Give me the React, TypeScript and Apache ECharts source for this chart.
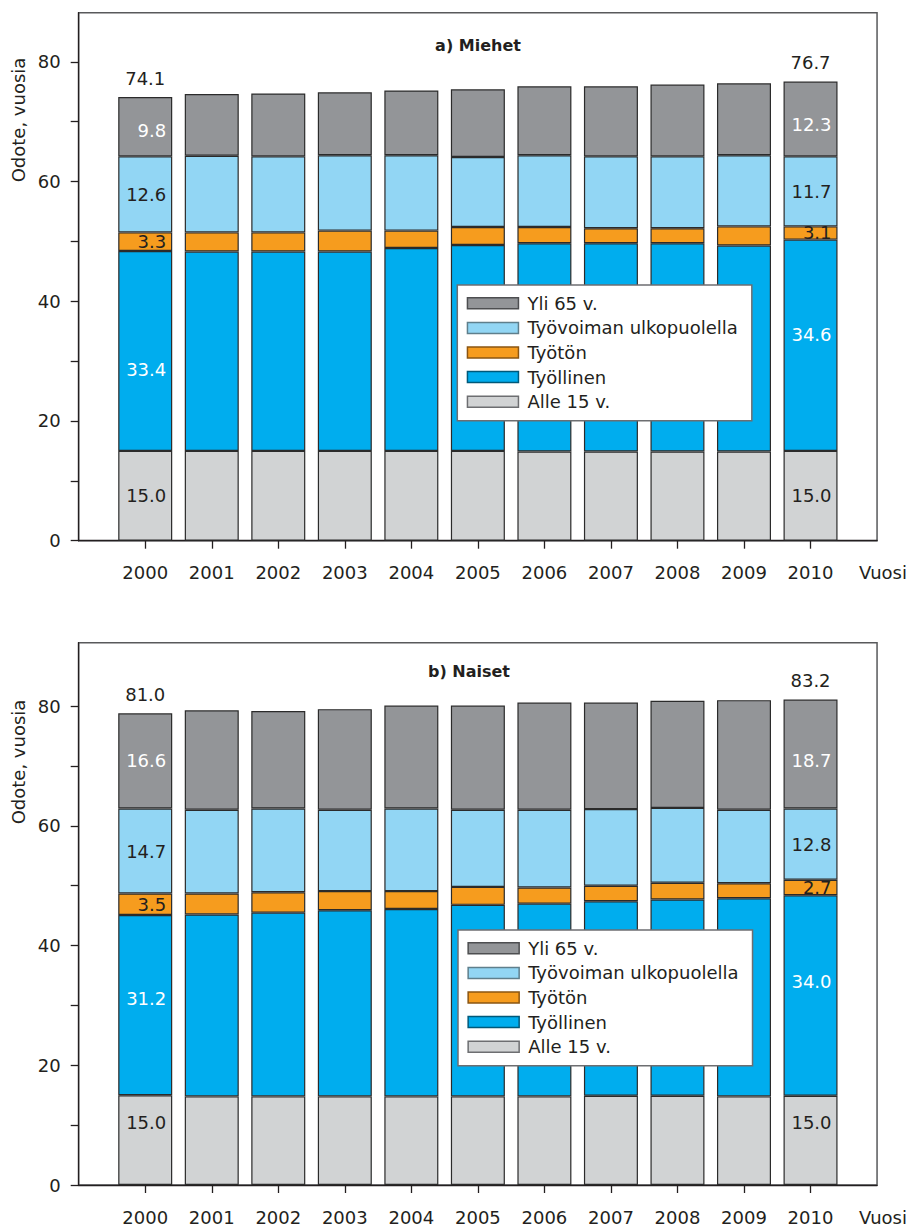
import React, { useEffect, useRef } from "react";
import * as echarts from "echarts";

const years = [2000, 2001, 2002, 2003, 2004, 2005, 2006, 2007, 2008, 2009, 2010];
const xCategories = ["", ...years.map(String), "Vuosi"];
const yTicks = [0, 10, 20, 30, 40, 50, 60, 70, 80];
const yLabels = [0, 20, 40, 60, 80];
const seriesNames = ["Alle 15 v.", "Työllinen", "Työtön", "Työvoiman ulkopuolella", "Yli 65 v."];
const legendOrder = ["Yli 65 v.", "Työvoiman ulkopuolella", "Työtön", "Työllinen", "Alle 15 v."];

// a) Miehet
const menAlle = [15.0, 15.0, 15.0, 15.0, 15.0, 15.0, 14.9, 14.9, 14.9, 14.9, 15.0];
const menTyollinen = [33.4, 33.3, 33.3, 33.3, 33.9, 34.4, 34.8, 34.8, 34.8, 34.4, 35.3];
const menTyoton = [3.1, 3.2, 3.2, 3.5, 2.9, 3.0, 2.7, 2.5, 2.5, 3.2, 2.2];
const menUlkop = [12.7, 12.8, 12.7, 12.6, 12.6, 11.7, 12.0, 12.0, 12.0, 11.9, 11.7];
const menYli = [9.9, 10.3, 10.5, 10.5, 10.8, 11.3, 11.5, 11.7, 12.0, 12.0, 12.5];
// printed labels (2000, 2010)
const menAlleLabels = ["15.0", "15.0"];
const menTyollinenLabels = ["33.4", "34.6"];
const menTyotonLabels = ["3.3", "3.1"];
const menUlkopLabels = ["12.6", "11.7"];
const menYliLabels = ["9.8", "12.3"];
const menTotalLabels = ["74.1", "76.7"];

// b) Naiset
const womenAlle = [15.0, 14.8, 14.8, 14.8, 14.8, 14.8, 14.8, 14.9, 14.9, 14.8, 14.9];
const womenTyollinen = [30.1, 30.4, 30.7, 31.1, 31.3, 32.0, 32.2, 32.5, 32.8, 33.1, 33.5];
const womenTyoton = [3.6, 3.5, 3.4, 3.2, 3.0, 3.0, 2.7, 2.6, 2.8, 2.5, 2.6];
const womenUlkop = [14.2, 14.0, 14.0, 13.6, 13.8, 12.9, 13.0, 12.8, 12.5, 12.3, 11.9];
const womenYli = [15.9, 16.6, 16.3, 16.8, 17.2, 17.4, 17.9, 17.8, 17.9, 18.3, 18.2];
const womenAlleLabels = ["15.0", "15.0"];
const womenTyollinenLabels = ["31.2", "34.0"];
const womenTyotonLabels = ["3.5", "2.7"];
const womenUlkopLabels = ["14.7", "12.8"];
const womenYliLabels = ["16.6", "18.7"];
const womenTotalLabels = ["81.0", "83.2"];

const FONT = "DejaVu Sans";
const INK = "#231f20";
const fills = ["#d1d3d4", "#00adee", "#f69c1e", "#92d6f4", "#939598"];
const swatchBorders = ["#6d6e71", "#00597a", "#8a5512", "#5f7f8c", "#4d4e50"];
const labelColors = [INK, "#ffffff", INK, INK, "#ffffff"];

// label nudges (style only): [series index] -> [offset 2000, offset 2010]
const menLabelOffsets: Record<number, number[][]> = {
  1: [[0, 19], [0, -11]],
  4: [[0, 4], [0, 6]],
};
const womenLabelOffsets: Record<number, number[][]> = {
  0: [[0, -18], [0, -18]],
  1: [[0, -7], [0, -14]],
  4: [[0, 0], [0, 6]],
};

function buildSeries(
  stack: string,
  gridIdx: number,
  values: number[][],
  labels: string[][],
  totals: string[],
  offsets: Record<number, number[][]>
) {
  const last = years.length - 1;
  const out: any[] = values.map((vals, s) => ({
    name: seriesNames[s],
    type: "bar",
    stack,
    xAxisIndex: gridIdx,
    yAxisIndex: gridIdx,
    barWidth: 54,
    itemStyle: { color: fills[s], borderColor: "#2b2b2b", borderWidth: 1.2 },
    data: vals.map((v, i) => {
      const item: any = { value: [String(years[i]), v] };
      const off = offsets[s];
      if (off && (i === 0 || i === last)) {
        item.label = { offset: off[i === 0 ? 0 : 1] };
      }
      return item;
    }),
    label: {
      show: true,
      position: "insideRight",
      distance: 6,
      color: labelColors[s],
      fontFamily: FONT,
      fontSize: 18,
      formatter: (p: any) => (p.dataIndex === 0 ? labels[s][0] : p.dataIndex === last ? labels[s][1] : ""),
    },
  }));
  out.push({
    name: "total",
    type: "bar",
    stack,
    xAxisIndex: gridIdx,
    yAxisIndex: gridIdx,
    barWidth: 54,
    itemStyle: { color: "transparent", borderWidth: 0 },
    data: years.map((y) => [String(y), 0]),
    label: {
      show: true,
      position: "top",
      distance: 10,
      color: INK,
      fontFamily: FONT,
      fontSize: 18,
      formatter: (p: any) => (p.dataIndex === 0 ? totals[0] : p.dataIndex === last ? totals[1] : ""),
    },
  });
  return out;
}

function xAxis(gridIndex: number) {
  return {
    type: "category",
    gridIndex,
    data: xCategories,
    boundaryGap: false,
    splitLine: { show: false },
    axisLine: { show: true, lineStyle: { color: INK, width: 1.3 } },
    axisTick: {
      show: true,
      length: 8,
      interval: (_i: number, v: string) => v !== "" && v !== "Vuosi",
      lineStyle: { color: INK, width: 1.3 },
    },
    axisLabel: {
      interval: 0,
      margin: 23,
      color: INK,
      fontFamily: FONT,
      fontSize: 18,
      formatter: (v: string) => (v === "Vuosi" ? "{v|Vuosi}" : v),
      rich: { v: { fontFamily: FONT, fontSize: 18, color: INK, padding: [0, 0, 0, 12] } },
    },
  };
}

function yAxis(gridIndex: number, max: number) {
  return {
    type: "value",
    gridIndex,
    min: 0,
    max,
    splitLine: { show: false },
    axisLine: { show: true, lineStyle: { color: INK, width: 1.3 } },
    axisTick: { show: true, length: 8, customValues: yTicks, lineStyle: { color: INK, width: 1.3 } },
    axisLabel: { customValues: yLabels, margin: 18, color: INK, fontFamily: FONT, fontSize: 18 },
  };
}

function legend(left: number, top: number) {
  return {
    left,
    top,
    orient: "vertical",
    itemWidth: 51,
    itemHeight: 11,
    itemGap: 6.6,
    padding: [9.3, 14, 10, 9.4],
    backgroundColor: "#ffffff",
    borderColor: "#6d6e71",
    borderWidth: 1.5,
    borderRadius: 0,
    icon: "rect",
    textStyle: { color: INK, fontFamily: FONT, fontSize: 18, lineHeight: 18, padding: [0, 0, 0, 4] },
    data: legendOrder.map((n) => {
      const s = seriesNames.indexOf(n);
      return { name: n, itemStyle: { color: fills[s], borderColor: swatchBorders[s], borderWidth: 1.5 } };
    }),
  };
}

export default function App() {
  const ref = useRef<HTMLDivElement>(null);
  useEffect(() => {
    if (!ref.current) return;
    const chart = echarts.init(ref.current, null, { renderer: "svg" });
    const menValues = [menAlle, menTyollinen, menTyoton, menUlkop, menYli];
    const menLabels = [menAlleLabels, menTyollinenLabels, menTyotonLabels, menUlkopLabels, menYliLabels];
    const womenValues = [womenAlle, womenTyollinen, womenTyoton, womenUlkop, womenYli];
    const womenLabels = [womenAlleLabels, womenTyollinenLabels, womenTyotonLabels, womenUlkopLabels, womenYliLabels];
    chart.setOption({
      animation: false,
      backgroundColor: "#ffffff",
      title: [
        {
          text: "a) Miehet",
          left: 478,
          top: 37,
          textAlign: "center",
          padding: 0,
          textStyle: { fontFamily: FONT, fontSize: 16, fontWeight: "bold", color: INK },
        },
        {
          text: "b) Naiset",
          left: 469,
          top: 663,
          textAlign: "center",
          padding: 0,
          textStyle: { fontFamily: FONT, fontSize: 16, fontWeight: "bold", color: INK },
        },
      ],
      grid: [
        { left: 78.7, top: 12.7, width: 799, height: 528, show: true, borderColor: "#58595b", borderWidth: 1.5, backgroundColor: "transparent" },
        { left: 78.7, top: 642.7, width: 799, height: 543.3, show: true, borderColor: "#58595b", borderWidth: 1.5, backgroundColor: "transparent" },
      ],
      xAxis: [xAxis(0), xAxis(1)],
      yAxis: [yAxis(0, 88.2), yAxis(1, 90.6)],
      legend: [legend(457.3, 285), legend(458, 930)],
      graphic: [
        {
          type: "text",
          x: 18,
          y: 120,
          rotation: Math.PI / 2,
          style: { text: "Odote, vuosia", fontFamily: FONT, fontSize: 18, fill: INK, textAlign: "center", textVerticalAlign: "middle" },
        },
        {
          type: "text",
          x: 18,
          y: 762,
          rotation: Math.PI / 2,
          style: { text: "Odote, vuosia", fontFamily: FONT, fontSize: 18, fill: INK, textAlign: "center", textVerticalAlign: "middle" },
        },
      ],
      series: [
        ...buildSeries("m", 0, menValues, menLabels, menTotalLabels, menLabelOffsets),
        ...buildSeries("w", 1, womenValues, womenLabels, womenTotalLabels, womenLabelOffsets),
      ],
    });
    return () => chart.dispose();
  }, []);
  return <div ref={ref} style={{ position: "absolute", left: 0, top: 0, width: 910, height: 1226 }} />;
}
